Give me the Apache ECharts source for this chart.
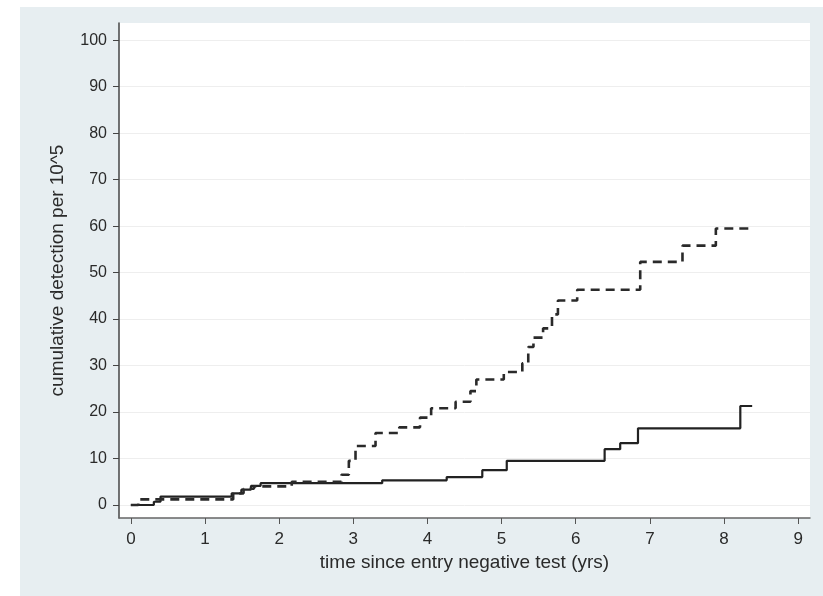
<!DOCTYPE html>
<html>
<head>
<meta charset="utf-8">
<script src="https://cdn.jsdelivr.net/npm/echarts@6/dist/echarts.min.js"></script>
<style>
  html, body { margin: 0; padding: 0; background: #ffffff; }
  #bg { position: absolute; left: 20px; top: 7px; width: 803px; height: 589px; background: #e7eef1; }
  #chart { position: absolute; left: 0; top: 0; width: 823px; height: 596px; }
</style>
</head>
<body>
<div id="bg"></div>
<div id="chart"></div>
<script>
// tick labels
const xTicks = [0, 1, 2, 3, 4, 5, 6, 7, 8, 9];
const yTicks = [0, 10, 20, 30, 40, 50, 60, 70, 80, 90, 100];

// solid curve: jump times (yrs) and cumulative value after the jump
const solidTimes = [0, 0.31, 0.4, 1.36, 1.49, 1.62, 1.75, 3.39, 4.26, 4.74, 5.07, 6.39, 6.6, 6.84, 8.22, 8.38];
const solidValues = [0, 0.7, 1.8, 2.5, 3.3, 4.1, 4.7, 5.3, 6.0, 7.5, 9.5, 12.0, 13.3, 16.5, 21.3, 21.3];

// dashed curve
const dashedTimes = [0, 0.1, 1.38, 1.52, 1.66, 2.17, 2.84, 2.94, 3.03, 3.3, 3.62, 3.9, 4.05, 4.38, 4.58, 4.66, 5.03, 5.28, 5.36, 5.43, 5.56, 5.68, 5.76, 6.02, 6.87, 7.44, 7.89, 8.38];
const dashedValues = [0, 1.2, 2.5, 3.5, 4.0, 5.0, 6.5, 9.5, 12.7, 15.5, 16.7, 18.8, 20.8, 22.2, 24.5, 27.0, 28.6, 30.5, 34.0, 36.0, 38.0, 41.0, 44.0, 46.3, 52.3, 55.8, 59.5, 59.5];

const xTitle = "time since entry negative test (yrs)";
const yTitle = "cumulative detection per 10^5";

const pairs = (xs, ys) => xs.map((x, i) => [x, ys[i]]);

const chart = echarts.init(document.getElementById("chart"));
const font = "'Liberation Sans', Arial, sans-serif";

const option = {
  backgroundColor: "transparent",
  animation: false,
  grid: {
    left: 119,
    top: 23,
    right: 13,
    bottom: 78,
    show: true,
    backgroundColor: "#ffffff",
    borderWidth: 0,
  },
  xAxis: {
    type: "value",
    min: -0.16,
    max: 9.16,
    name: xTitle,
    nameLocation: "middle",
    nameGap: 34,
    nameTextStyle: { color: "#2a2a2a", fontSize: 19, fontFamily: font },
    axisLine: { onZero: false, lineStyle: { color: "#666", width: 1.5 } },
    axisTick: { customValues: xTicks, length: 6, lineStyle: { color: "#555" } },
    axisLabel: { customValues: xTicks, color: "#2a2a2a", fontSize: 17, fontFamily: font, margin: 13 },
    splitLine: { show: false },
  },
  yAxis: {
    type: "value",
    min: -2.8,
    max: 103.7,
    name: yTitle,
    nameLocation: "middle",
    nameGap: 52,
    nameTextStyle: { color: "#2a2a2a", fontSize: 19, fontFamily: font },
    axisLine: { show: true, onZero: false, lineStyle: { color: "#444", width: 1.5 } },
    axisTick: { show: true, customValues: yTicks, length: 6, lineStyle: { color: "#444" } },
    axisLabel: { customValues: yTicks, color: "#2a2a2a", fontSize: 16, fontFamily: font, margin: 12 },
    splitLine: { show: true, lineStyle: { color: "#eeeeee", width: 1 } },
  },
  series: [
    {
      name: "solid",
      type: "line",
      step: "end",
      showSymbol: false,
      data: pairs(solidTimes, solidValues),
      lineStyle: { color: "#222", width: 2.2 },
    },
    {
      name: "dashed",
      type: "line",
      step: "end",
      showSymbol: false,
      data: pairs(dashedTimes, dashedValues),
      lineStyle: { color: "#2a2a2a", width: 2.6, type: [9, 6] },
    },
  ],
};

chart.setOption(option);
</script>
</body>
</html>
